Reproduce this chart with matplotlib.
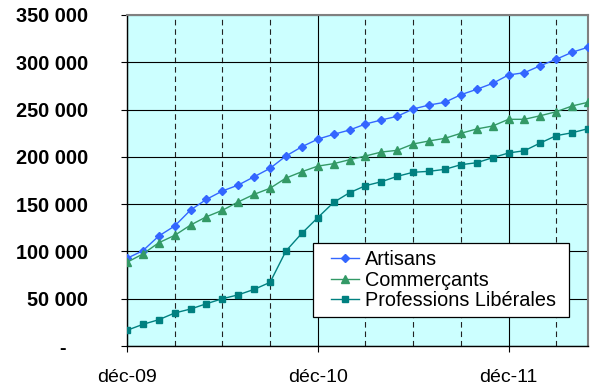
import matplotlib
matplotlib.use("Agg")
import matplotlib.pyplot as plt
from matplotlib.ticker import FixedLocator, MultipleLocator
from matplotlib.legend_handler import HandlerLine2D

# Monthly series, déc-09 through mai-12 (month index 0..29)
months = list(range(30))
artisans = [92700, 100800, 116300, 126900, 143800, 155100, 163900, 170200, 179000, 187900,
            200900, 210700, 218700, 223800, 228400, 234700, 239000, 242900, 250600, 254800,
            257700, 265700, 271400, 277700, 286600, 289000, 296400, 303200, 310600, 315900]
commercants = [88500, 97300, 109200, 117000, 127900, 136700, 143500, 152400, 160400, 166800,
               177600, 184300, 190200, 192800, 197000, 200900, 205100, 206900, 213600, 216800,
               219600, 224900, 229500, 232600, 239700, 239700, 243500, 247700, 253800, 257700]
liberales = [16600, 22900, 27800, 34900, 39100, 44700, 50000, 54100, 59900, 67300,
             100500, 119200, 135700, 151900, 162100, 169500, 173700, 179400, 183700, 184700,
             186800, 191700, 193800, 199100, 204100, 206500, 214700, 222400, 225500, 229800]

series_names = ["Artisans", "Commerçants", "Professions Libérales"]
year_ticks = [0, 12, 24]
year_labels = ["déc-09", "déc-10", "déc-11"]
y_ticks = [0, 50000, 100000, 150000, 200000, 250000, 300000, 350000]
y_labels = ["-    ", "50 000", "100 000", "150 000", "200 000", "250 000", "300 000", "350 000"]

plt.rcParams["font.family"] = ["Liberation Sans", "DejaVu Sans"]

fig = plt.figure(figsize=(5.91, 3.85), dpi=100)
ax = fig.add_axes([127 / 591, 39 / 385, 461 / 591, 331 / 385])
ax.set_facecolor("#CCFFFF")

lines = []
lines += ax.plot(months, artisans, color="#3366FF", marker="D", markersize=4.5, lw=1.0,
                 label=series_names[0], zorder=4)
lines += ax.plot(months, commercants, color="#339966", marker="^", markersize=5.5, lw=1.0,
                 label=series_names[1], zorder=4)
lines += ax.plot(months, liberales, color="#008080", marker="s", markersize=5, lw=1.0,
                 label=series_names[2], zorder=4)

ax.set_xlim(0, 29)
ax.set_ylim(0, 350000)

ax.xaxis.set_major_locator(FixedLocator(year_ticks))
ax.set_xticklabels(year_labels)
ax.xaxis.set_minor_locator(MultipleLocator(3))
ax.yaxis.set_major_locator(FixedLocator(y_ticks))
ax.set_yticklabels(y_labels)

ax.tick_params(axis="y", which="major", direction="out", length=4.3, width=0.8,
               pad=23.5, labelsize=14.3, colors="black")
for lbl in ax.get_yticklabels():
    lbl.set_fontweight("bold")
ax.tick_params(axis="x", which="major", direction="out", length=4.3, width=0.8,
               pad=12.5, labelsize=14)
ax.tick_params(axis="x", which="minor", length=0)

# Grid: solid horizontal lines, solid yearly verticals, dashed quarterly verticals
ax.grid(True, axis="y", which="major", color="black", lw=0.8, ls="-", zorder=1)
ax.grid(True, axis="x", which="major", color="black", lw=0.8, ls="-", zorder=1)
ax.grid(True, axis="x", which="minor", color="#222222", lw=0.8, ls=(0, (5, 3.5)), zorder=1)
ax.set_axisbelow(True)

for side in ("left", "bottom"):
    ax.spines[side].set_color("black")
    ax.spines[side].set_linewidth(1.0)
for side in ("top", "right"):
    ax.spines[side].set_color("#808080")
    ax.spines[side].set_linewidth(1.5)

handler = {ln: HandlerLine2D(xpad=0.55) for ln in lines}
leg = ax.legend(handles=lines, handler_map=handler,
                loc="upper left", bbox_to_anchor=(0.403, 0.311, 0.556, 0.0),
                mode="expand", fontsize=14.3, frameon=True, fancybox=False,
                edgecolor="black", framealpha=1.0, borderpad=0.35, labelspacing=0.08,
                handlelength=2.0, handletextpad=0.3, borderaxespad=0.0)
leg.get_frame().set_linewidth(0.9)
leg.set_zorder(5)

fig.savefig("out.png", dpi=100)
